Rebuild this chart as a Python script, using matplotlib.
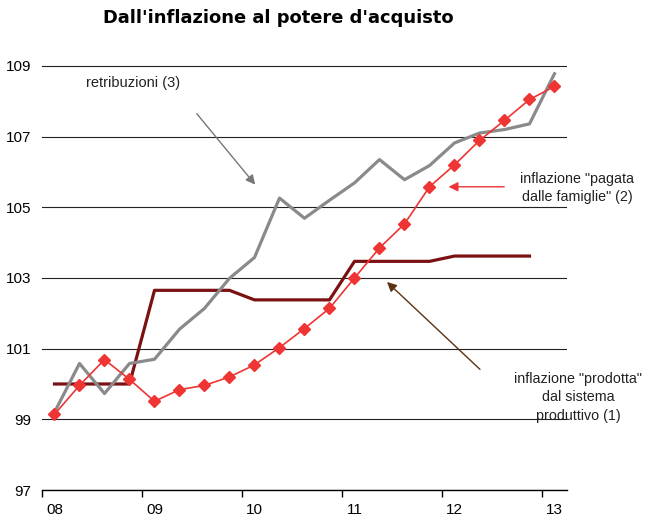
import matplotlib
matplotlib.use("Agg")
import matplotlib.pyplot as plt

# quarterly data, 2008Q1 .. 2013Q1
year_labels = ['08', '09', '10', '11', '12', '13']

retribuzioni = [99.2, 100.58, 99.73, 100.58, 100.7, 101.55, 102.14, 102.99,
                103.58, 105.26, 104.69, 105.2, 105.69, 106.35, 105.78, 106.18,
                106.82, 107.1, 107.2, 107.36, 108.78]
pagata = [99.14, 99.96, 100.69, 100.13, 99.51, 99.84, 99.96, 100.2,
          100.54, 101.03, 101.57, 102.14, 103.0, 103.85, 104.53, 105.58,
          106.2, 106.89, 107.46, 108.05, 108.42]
prodotta = [100.0, 100.0, 100.0, 100.0, 102.65, 102.65, 102.65, 102.65,
            102.38, 102.38, 102.38, 102.38, 103.47, 103.47, 103.47, 103.47,
            103.62, 103.62, 103.62, 103.62]

plt.rcParams['font.family'] = ['Liberation Sans', 'DejaVu Sans']

fig = plt.figure(figsize=(6.46, 5.17), dpi=100)
ax = fig.add_axes([0.065, 0.0522, 0.8127, 0.8408])

x_all = list(range(len(pagata)))
ax.plot(range(len(prodotta)), prodotta, color='#7b1113', lw=2.3, zorder=3)
ax.plot(x_all, pagata, color='#ef3434', lw=1.2, marker='D', markersize=6.5,
        markeredgecolor='#ef3434', zorder=4)
ax.plot(range(len(retribuzioni)), retribuzioni, color='#8a8a8c', lw=2.3, zorder=3)

ax.set_xlim(-0.5, len(pagata) - 0.5)
ax.set_ylim(97, 109.3)
ax.set_yticks([97, 99, 101, 103, 105, 107, 109])
ax.grid(axis='y', color='#222222', lw=0.8)
ax.set_axisbelow(True)

ax.set_xticks([0, 4, 8, 12, 16, 20])
ax.set_xticklabels(year_labels)
ax.set_xticks([-0.5, 3.5, 7.5, 11.5, 15.5, 19.5], minor=True)
ax.tick_params(axis='x', which='major', length=0, pad=9, labelsize=11)
ax.tick_params(axis='x', which='minor', length=5, width=1, direction='out')
ax.tick_params(axis='y', length=0, pad=8, labelsize=11)

for s in ['left', 'right', 'top']:
    ax.spines[s].set_visible(False)
ax.spines['bottom'].set_linewidth(1)

fig.text(0.431, 0.965, "Dall'inflazione al potere d'acquisto", ha='center',
         va='center', fontsize=12.9, fontweight='bold', family='DejaVu Sans')

ax.text(3.14, 108.53, 'retribuzioni (3)', ha='center', va='center',
        fontsize=10.5, color='#222222')
ax.annotate('', xy=(8.1, 105.58), xytext=(5.62, 107.71),
            arrowprops=dict(arrowstyle='-|>', color='#777777', lw=1,
                            mutation_scale=14))

ax.text(20.9, 105.55, 'inflazione "pagata\ndalle famiglie" (2)', ha='center',
        va='center', fontsize=10.3, color='#222222', linespacing=1.4)
ax.annotate('', xy=(15.65, 105.58), xytext=(18.1, 105.58),
            arrowprops=dict(arrowstyle='-|>', color='#ef3434', lw=1,
                            mutation_scale=14))

ax.text(20.95, 99.62, 'inflazione "prodotta"\ndal sistema\nproduttivo (1)',
        ha='center', va='center', fontsize=10.3, color='#222222', linespacing=1.4)
ax.annotate('', xy=(13.22, 102.94), xytext=(17.1, 100.36),
            arrowprops=dict(arrowstyle='-|>', color='#5c3212', lw=1,
                            mutation_scale=14))

fig.savefig('out.png', dpi=100)
